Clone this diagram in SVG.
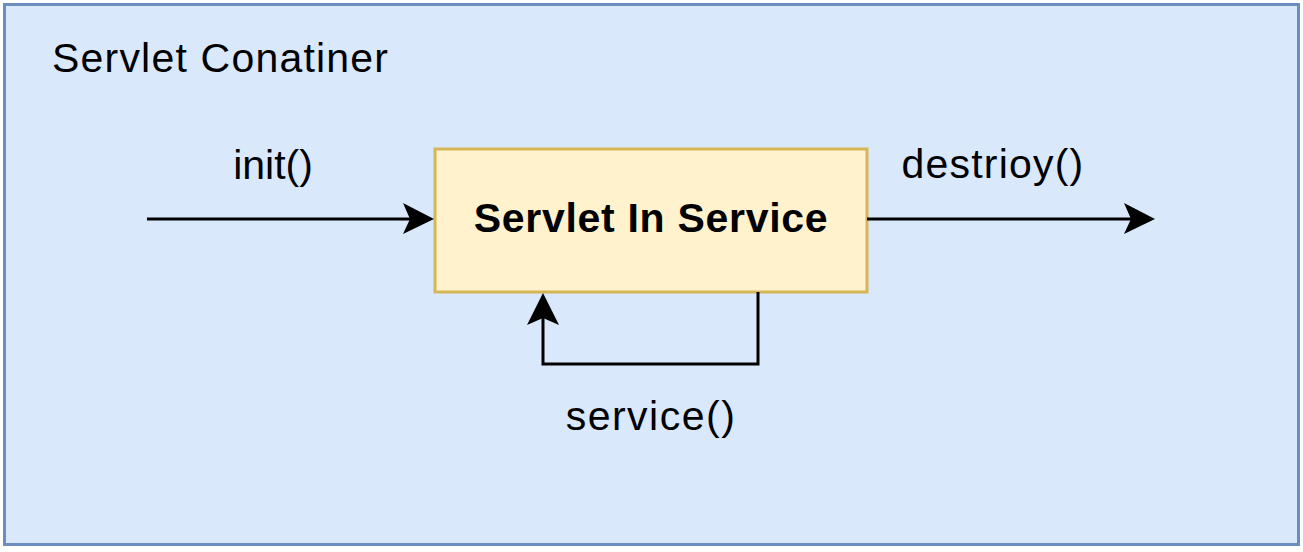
<svg xmlns="http://www.w3.org/2000/svg" width="1303" height="552" viewBox="0 0 1303 552">
<defs>
<style>
.lbl{font-family:"Liberation Sans",Arial,sans-serif;font-size:41px;fill:#000}
.edge{fill:none;stroke:#000;stroke-width:3}
.head{fill:#000;stroke:none}
</style>
</defs>
<rect width="1303" height="552" fill="#ffffff"/>
<g id="container">
<rect x="4.5" y="4.5" width="1294" height="540" fill="#dae8fc" stroke="#6c8ebf" stroke-width="3"/>
<text class="lbl" x="52" y="72" font-size="42" letter-spacing="1.2">Servlet Conatiner</text>
</g>
<g id="servlet">
<rect x="435" y="149" width="432" height="143" fill="#fff2cc" stroke="#d6b656" stroke-width="3"/>
<text class="lbl" x="651" y="232" text-anchor="middle" font-weight="bold" font-size="41" letter-spacing="0.7">Servlet In Service</text>
</g>
<g id="connectors">
<line class="edge" x1="147" y1="219" x2="412" y2="219"/>
<path class="head" d="M434,219 L403,203 L410,219 L403,234 Z"/>
<line class="edge" x1="867" y1="219" x2="1133" y2="219"/>
<path class="head" d="M1155,219 L1124,203 L1131,219 L1124,234 Z"/>
<path class="edge" d="M758,292 V364 H543 V316"/>
<path class="head" d="M543,293 L527,325 L543,318 L559,325 Z"/>
<text class="lbl" x="273" y="179" text-anchor="middle">init()</text>
<text class="lbl" x="993" y="178" text-anchor="middle" letter-spacing="1.2">destrioy()</text>
<text class="lbl" x="651" y="430" text-anchor="middle" letter-spacing="1.5">service()</text>
</g>
</svg>
